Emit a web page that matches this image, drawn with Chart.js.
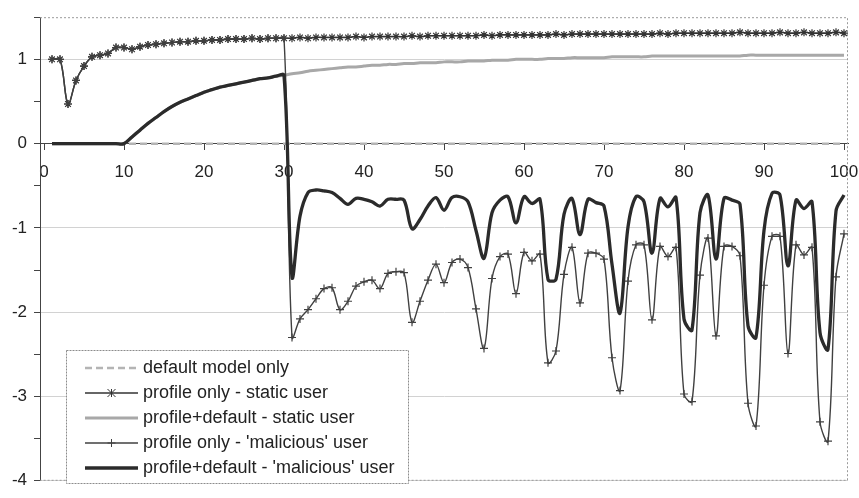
<!DOCTYPE html>
<html>
<head>
<meta charset="utf-8">
<title>Profile vs default model</title>
<script src="https://cdn.jsdelivr.net/npm/chart.js"></script>
<style>
    html, body { margin: 0; padding: 0; background: #ffffff; }
    #grafico { display: block; }
</style>
</head>
<body>
<canvas id="grafico" width="859" height="498"></canvas>
<script>
(function () {
    "use strict";

    // Steps 1..100
    var steps = [
        1, 2, 3, 4, 5, 6, 7, 8, 9, 10, 11, 12, 13, 14, 15, 16, 17, 18, 19, 20,
        21, 22, 23, 24, 25, 26, 27, 28, 29, 30, 31, 32, 33, 34, 35, 36, 37, 38, 39, 40,
        41, 42, 43, 44, 45, 46, 47, 48, 49, 50, 51, 52, 53, 54, 55, 56, 57, 58, 59, 60,
        61, 62, 63, 64, 65, 66, 67, 68, 69, 70, 71, 72, 73, 74, 75, 76, 77, 78, 79, 80,
        81, 82, 83, 84, 85, 86, 87, 88, 89, 90, 91, 92, 93, 94, 95, 96, 97, 98, 99, 100
    ];

    var xTicks = [0, 10, 20, 30, 40, 50, 60, 70, 80, 90, 100];
    var yTicks = [-4, -3.5, -3, -2.5, -2, -1.5, -1, -0.5, 0, 0.5, 1, 1.5];

    var defaultOnly = [
        0, 0, 0, 0, 0, 0, 0, 0, 0, 0, 0, 0, 0, 0, 0, 0, 0, 0, 0, 0,
        0, 0, 0, 0, 0, 0, 0, 0, 0, 0, 0, 0, 0, 0, 0, 0, 0, 0, 0, 0,
        0, 0, 0, 0, 0, 0, 0, 0, 0, 0, 0, 0, 0, 0, 0, 0, 0, 0, 0, 0,
        0, 0, 0, 0, 0, 0, 0, 0, 0, 0, 0, 0, 0, 0, 0, 0, 0, 0, 0, 0,
        0, 0, 0, 0, 0, 0, 0, 0, 0, 0, 0, 0, 0, 0, 0, 0, 0, 0, 0, 0
    ];

    var profileStatic = [
        1.00, 1.00, 0.47, 0.75, 0.92, 1.03, 1.05, 1.07, 1.14, 1.14,
        1.12, 1.15, 1.17, 1.18, 1.19, 1.20, 1.21, 1.21, 1.22, 1.22,
        1.23, 1.23, 1.24, 1.24, 1.24, 1.25, 1.24, 1.25, 1.25, 1.25,
        1.25, 1.26, 1.25, 1.26, 1.26, 1.26, 1.26, 1.26, 1.27, 1.26,
        1.27, 1.27, 1.27, 1.27, 1.27, 1.28, 1.27, 1.28, 1.28, 1.28,
        1.28, 1.28, 1.28, 1.28, 1.29, 1.28, 1.29, 1.29, 1.29, 1.29,
        1.29, 1.29, 1.29, 1.30, 1.29, 1.30, 1.30, 1.30, 1.30, 1.30,
        1.30, 1.30, 1.30, 1.30, 1.30, 1.30, 1.31, 1.30, 1.31, 1.31,
        1.31, 1.31, 1.31, 1.31, 1.31, 1.31, 1.32, 1.31, 1.31, 1.31,
        1.31, 1.32, 1.31, 1.31, 1.32, 1.31, 1.31, 1.31, 1.32, 1.31
    ];

    var profileDefaultStatic = [
        0, 0, 0, 0, 0, 0, 0, 0, 0, 0,
        0.08, 0.16, 0.24, 0.31, 0.38, 0.44, 0.49, 0.53, 0.57, 0.61,
        0.64, 0.67, 0.69, 0.71, 0.73, 0.75, 0.77, 0.78, 0.80, 0.81,
        0.83, 0.84, 0.86, 0.87, 0.88, 0.89, 0.90, 0.91, 0.91, 0.92,
        0.93, 0.93, 0.94, 0.94, 0.95, 0.95, 0.96, 0.96, 0.96, 0.97,
        0.97, 0.97, 0.98, 0.98, 0.98, 0.99, 0.99, 0.99, 1.00, 1.00,
        1.00, 1.00, 1.01, 1.01, 1.01, 1.02, 1.02, 1.02, 1.02, 1.02,
        1.03, 1.03, 1.03, 1.03, 1.03, 1.04, 1.04, 1.04, 1.04, 1.04,
        1.04, 1.04, 1.04, 1.04, 1.04, 1.04, 1.04, 1.05, 1.05, 1.05,
        1.05, 1.05, 1.05, 1.05, 1.05, 1.05, 1.05, 1.05, 1.05, 1.05
    ];

    // the 'malicious' user behaves like the static one until step 30
    var profileMaliciousTail = [
        -2.30, -2.08, -1.97, -1.84, -1.72, -1.71, -1.97, -1.87, -1.69, -1.64,
        -1.62, -1.72, -1.54, -1.52, -1.53, -2.12, -1.87, -1.62, -1.43, -1.65,
        -1.41, -1.37, -1.47, -1.96, -2.43, -1.60, -1.34, -1.31, -1.78, -1.29,
        -1.39, -1.31, -2.60, -2.46, -1.55, -1.23, -1.89, -1.30, -1.30, -1.37,
        -2.54, -2.93, -1.63, -1.20, -1.20, -2.09, -1.22, -1.34, -1.23, -2.97,
        -3.06, -1.56, -1.12, -2.28, -1.22, -1.22, -1.33, -3.08, -3.35, -1.68,
        -1.10, -1.10, -2.49, -1.20, -1.32, -1.23, -3.30, -3.53, -1.58, -1.07
    ];

    var profileDefaultMaliciousTail = [
        -1.58, -0.86, -0.58, -0.55, -0.56, -0.58, -0.65, -0.72, -0.65, -0.66,
        -0.69, -0.74, -0.66, -0.66, -0.67, -1.01, -0.90, -0.74, -0.64, -0.79,
        -0.64, -0.63, -0.69, -1.03, -1.36, -0.82, -0.67, -0.63, -0.94, -0.63,
        -0.71, -0.66, -1.61, -1.61, -0.84, -0.65, -1.08, -0.66, -0.70, -0.74,
        -1.43, -2.01, -0.99, -0.63, -0.69, -1.30, -0.65, -0.75, -0.64, -2.08,
        -2.21, -0.82, -0.61, -1.37, -0.65, -0.67, -0.72, -2.16, -2.30, -1.03,
        -0.59, -0.61, -1.45, -0.67, -0.77, -0.69, -2.24, -2.44, -0.80, -0.61
    ];

    var profileMalicious = profileStatic.slice(0, 30).concat(profileMaliciousTail);
    var profileDefaultMalicious = profileDefaultStatic.slice(0, 30).concat(profileDefaultMaliciousTail);

    var FONT = '"Liberation Sans", Arial, sans-serif';

    // Dotted frame around the plot area (Excel style)
    var plotFrame = {
        id: 'plotFrame',
        beforeDatasetsDraw: function (chart) {
            var a = chart.chartArea, ctx = chart.ctx;
            ctx.save();
            ctx.strokeStyle = '#9a9a9a';
            ctx.lineWidth = 1;
            ctx.setLineDash([2, 2]);
            ctx.beginPath();
            ctx.moveTo(a.left, a.top + 0.5);
            ctx.lineTo(a.right - 0.5, a.top + 0.5);
            ctx.lineTo(a.right - 0.5, a.bottom - 0.5);
            ctx.lineTo(a.left, a.bottom - 0.5);
            ctx.stroke();
            ctx.restore();
        }
    };

    // Legend box inside the plot, bottom left
    function drawMarker(ctx, style, x, y, r) {
        ctx.beginPath();
        if (style === 'star') {
            ctx.moveTo(x - r, y - r); ctx.lineTo(x + r, y + r);
            ctx.moveTo(x - r, y + r); ctx.lineTo(x + r, y - r);
            ctx.moveTo(x, y - r); ctx.lineTo(x, y + r);
        } else if (style === 'cross') {
            ctx.moveTo(x - r, y); ctx.lineTo(x + r, y);
            ctx.moveTo(x, y - r); ctx.lineTo(x, y + r);
        }
        ctx.stroke();
    }

    var boxLegend = {
        id: 'boxLegend',
        afterDraw: function (chart) {
            var ctx = chart.ctx;
            var box = { x: 66, y: 350, w: 342, h: 133 };
            ctx.save();
            ctx.fillStyle = '#ffffff';
            ctx.fillRect(box.x, box.y, box.w, box.h);
            ctx.strokeStyle = '#8c8c8c';
            ctx.lineWidth = 1;
            ctx.setLineDash([2, 1]);
            ctx.strokeRect(box.x + 0.5, box.y + 0.5, box.w, box.h);

            ctx.font = '18px ' + FONT;
            ctx.textBaseline = 'middle';
            ctx.fillStyle = '#222222';
            chart.data.datasets.forEach(function (ds, i) {
                var y = 368 + i * 25;
                ctx.strokeStyle = ds.borderColor;
                ctx.lineWidth = ds.borderWidth;
                ctx.setLineDash(ds.borderDash || []);
                ctx.beginPath();
                ctx.moveTo(85, y);
                ctx.lineTo(138, y);
                ctx.stroke();
                ctx.setLineDash([]);
                if (ds.pointRadius > 0) {
                    ctx.lineWidth = 1;
                    drawMarker(ctx, ds.pointStyle, 111.5, y, ds.pointRadius);
                }
                ctx.fillText(ds.label, 143, y);
            });
            ctx.restore();
        }
    };

    var ctx = document.getElementById('grafico').getContext('2d');
    var grafico = new Chart(ctx, {
        type: 'line',
        data: {
            labels: steps,
            datasets: [{
                label: 'default model only',
                data: defaultOnly,
                borderColor: '#b4b4b4',
                borderWidth: 2.5,
                borderDash: [7, 4],
                pointRadius: 0,
                tension: 0,
                order: 5
            }, {
                label: 'profile only - static user',
                data: profileStatic,
                borderColor: '#333333',
                borderWidth: 1.5,
                pointStyle: 'star',
                pointRadius: 4,
                pointBorderWidth: 1.2,
                pointBorderColor: '#333333',
                tension: 0.35,
                order: 4
            }, {
                label: 'profile+default - static user',
                data: profileDefaultStatic,
                borderColor: '#a8a8a8',
                borderWidth: 3,
                pointRadius: 0,
                tension: 0.35,
                order: 3
            }, {
                label: "profile only - 'malicious' user",
                data: profileMalicious,
                borderColor: '#404040',
                borderWidth: 1.4,
                pointStyle: 'cross',
                pointRadius: 4,
                pointBorderWidth: 1.2,
                pointBorderColor: '#404040',
                tension: 0.35,
                order: 2
            }, {
                label: "profile+default - 'malicious' user",
                data: profileDefaultMalicious,
                borderColor: '#2b2b2b',
                borderWidth: 3.3,
                pointRadius: 0,
                tension: 0.35,
                order: 1
            }]
        },
        options: {
            responsive: false,
            animation: false,
            devicePixelRatio: 1,
            layout: { padding: { left: 0, top: 12, right: 11, bottom: 8 } },
            plugins: {
                legend: { display: false },
                tooltip: { enabled: false }
            },
            scales: {
                x: {
                    type: 'linear',
                    position: { y: 0 },
                    min: -0.5,
                    max: 100.5,
                    afterBuildTicks: function (scale) {
                        scale.ticks = xTicks.map(function (v) { return { value: v }; });
                    },
                    afterFit: function (scale) {
                        scale.paddingLeft = 0;
                        scale.paddingRight = 0;
                    },
                    grid: {
                        drawOnChartArea: false,
                        tickLength: 6,
                        tickColor: '#444444'
                    },
                    border: { display: true, color: '#444444', width: 1 },
                    ticks: {
                        maxRotation: 0,
                        autoSkip: false,
                        padding: 12,
                        color: '#222222',
                        font: { family: FONT, size: 17 }
                    }
                },
                y: {
                    type: 'linear',
                    min: -4,
                    max: 1.5,
                    afterBuildTicks: function (scale) {
                        scale.ticks = yTicks.map(function (v) { return { value: v }; });
                    },
                    afterFit: function (scale) {
                        scale.width = 40;
                    },
                    grid: {
                        color: function (c) {
                            return c.tick && Number.isInteger(c.tick.value) ? '#d2d2d2' : 'rgba(0,0,0,0)';
                        },
                        tickColor: '#444444',
                        tickLength: 6,
                        lineWidth: 1
                    },
                    border: { display: true, color: '#444444', width: 1 },
                    ticks: {
                        autoSkip: false,
                        padding: 7,
                        color: '#222222',
                        font: { family: FONT, size: 17 },
                        callback: function (v) {
                            return Number.isInteger(v) ? String(v) : '';
                        }
                    }
                }
            }
        },
        plugins: [plotFrame, boxLegend]
    });
})();
</script>
</body>
</html>
